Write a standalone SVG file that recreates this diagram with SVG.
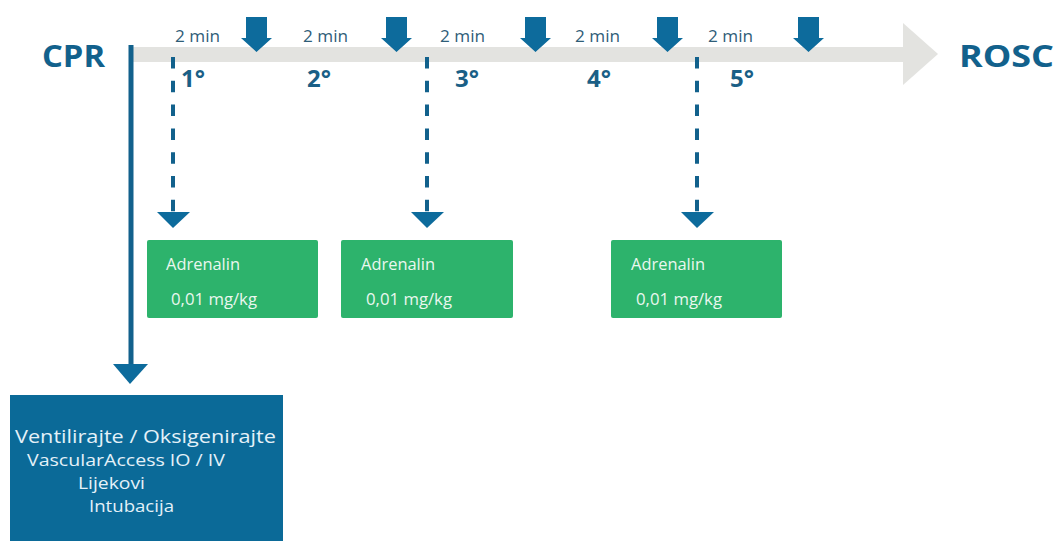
<svg xmlns="http://www.w3.org/2000/svg" width="1063" height="541" viewBox="0 0 1063 541">
<style>
.t{font-family:"Open Sans","Liberation Sans",sans-serif}
.big{font-size:31px;font-weight:bold;fill:#12618c}
.min{font-size:16px;fill:#2f5d78}
.deg{font-size:24px;font-weight:bold;fill:#1a5f86}
.box{fill:#2db36c}
.bt{font-size:16.5px;fill:#eaf7ef}
.bl{fill:#0b6a98}
.bx{fill:#e4f1f8}
.dash{stroke:#12618c;stroke-width:4;stroke-dasharray:11.5 12.3;fill:none}
.arr{fill:#0d6b9c}
</style>
<rect width="1063" height="541" fill="#ffffff"/>
<g id="timeline">
<rect x="130" y="47" width="775" height="15" fill="#e3e3e0"/>
<polygon points="903,23 938,54 903,85" fill="#e3e3e0"/>
</g>
<g id="cpr"><text class="t big" x="42" y="67" textLength="63" lengthAdjust="spacingAndGlyphs">CPR</text></g>
<g id="rosc"><text class="t big" x="959" y="67" textLength="95" lengthAdjust="spacingAndGlyphs">ROSC</text></g>
<g id="intervals">
<text class="t min" x="175" y="42" textLength="45" lengthAdjust="spacingAndGlyphs">2 min</text>
<text class="t min" x="303" y="42" textLength="45" lengthAdjust="spacingAndGlyphs">2 min</text>
<text class="t min" x="440" y="42" textLength="45" lengthAdjust="spacingAndGlyphs">2 min</text>
<text class="t min" x="575" y="42" textLength="45" lengthAdjust="spacingAndGlyphs">2 min</text>
<text class="t min" x="708" y="42" textLength="45" lengthAdjust="spacingAndGlyphs">2 min</text>
<text class="t deg" x="181" y="87">1°</text>
<text class="t deg" x="307" y="87">2°</text>
<text class="t deg" x="455" y="87">3°</text>
<text class="t deg" x="587" y="87">4°</text>
<text class="t deg" x="730" y="87">5°</text>
</g>
<g id="pulse-arrows" class="arr">
<polygon points="246,17 267,17 267,38 272,38 256.5,52 241,38 246,38"/>
<polygon points="386,17 407,17 407,38 412,38 396.5,52 381,38 386,38"/>
<polygon points="525,17 546,17 546,38 551,38 535.5,52 520,38 525,38"/>
<polygon points="657,17 678,17 678,38 683,38 667.5,52 652,38 657,38"/>
<polygon points="798,17 819,17 819,38 824,38 808.5,52 793,38 798,38"/>
</g>
<g id="connectors">
<line class="dash" x1="173" y1="57" x2="173" y2="212"/>
<polygon class="arr" points="157,212 190,212 173,228"/>
<line class="dash" x1="427" y1="57" x2="427" y2="212"/>
<polygon class="arr" points="411,212 444,212 427,228"/>
<line class="dash" x1="697" y1="57" x2="697" y2="212"/>
<polygon class="arr" points="681,212 714,212 697,228"/>
<line x1="131" y1="45" x2="131" y2="366" stroke="#12618c" stroke-width="5"/>
<polygon class="arr" points="113,364 148,364 130,384"/>
</g>
<g id="adrenalin-1">
<rect class="box" x="147" y="240" width="171" height="78" rx="2"/>
<text class="t bt" x="166" y="270" textLength="74" lengthAdjust="spacingAndGlyphs">Adrenalin</text>
<text class="t bt" x="171" y="305" textLength="86" lengthAdjust="spacingAndGlyphs">0,01 mg/kg</text>
</g>
<g id="adrenalin-2">
<rect class="box" x="341" y="240" width="172" height="78" rx="2"/>
<text class="t bt" x="361" y="270" textLength="74" lengthAdjust="spacingAndGlyphs">Adrenalin</text>
<text class="t bt" x="366" y="305" textLength="86" lengthAdjust="spacingAndGlyphs">0,01 mg/kg</text>
</g>
<g id="adrenalin-3">
<rect class="box" x="611" y="240" width="171" height="78" rx="2"/>
<text class="t bt" x="631" y="270" textLength="74" lengthAdjust="spacingAndGlyphs">Adrenalin</text>
<text class="t bt" x="636" y="305" textLength="86" lengthAdjust="spacingAndGlyphs">0,01 mg/kg</text>
</g>
<g id="actions">
<rect class="bl" x="10" y="395" width="273" height="150"/>
<text class="t bx" x="15" y="443" font-size="19" textLength="261" lengthAdjust="spacingAndGlyphs">Ventilirajte / Oksigenirajte</text>
<text class="t bx" x="27" y="466" font-size="16.5" textLength="198" lengthAdjust="spacingAndGlyphs">VascularAccess IO / IV</text>
<text class="t bx" x="78" y="489" font-size="16.5" textLength="67" lengthAdjust="spacingAndGlyphs">Lijekovi</text>
<text class="t bx" x="89" y="512" font-size="16.5" textLength="85" lengthAdjust="spacingAndGlyphs">Intubacija</text>
</g>
</svg>
